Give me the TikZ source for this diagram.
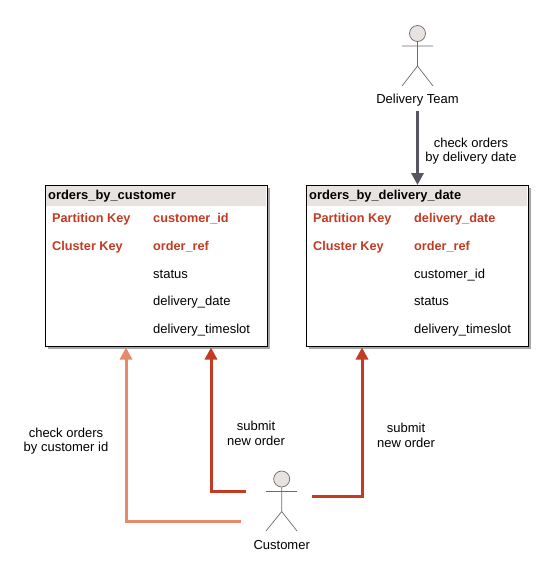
\documentclass[tikz,border=0pt]{standalone}
\usepackage{fontspec}
\setmainfont{Liberation Sans}
\usetikzlibrary{arrows.meta}
\definecolor{keyred}{HTML}{C23B22}
\definecolor{lightred}{HTML}{E58A6A}
\definecolor{headbg}{HTML}{E8E3E0}
\definecolor{slate}{HTML}{555564}
\definecolor{actorline}{HTML}{6E6A68}
\tikzset{
  txt/.style={font=\fontsize{13}{14.5}\selectfont,text=black,inner sep=0pt,align=center},
  cell/.style={font=\fontsize{13}{14}\selectfont,text=black,inner sep=0pt,anchor=base west},
  keycell/.style={cell,font=\fontsize{12.7}{14}\selectfont\bfseries,text=keyred},
  title/.style={cell,font=\fontsize{12.9}{14}\selectfont\bfseries},
  tablebox/.style={draw=black,line width=1pt,fill=white,minimum width=221.5pt,minimum height=161pt,inner sep=0pt,
    anchor=north west},
  shadowbox/.style={fill=black!35,minimum width=221.5pt,minimum height=161pt,inner sep=0pt,anchor=north west},
  conn/.style={line width=3pt,-{Triangle[length=12pt,width=12pt]}},
  stick/.style={draw=actorline,line width=0.7pt},
  head/.style={stick,circle,fill=headbg,minimum size=16pt,inner sep=0pt}
}
\begin{document}
\begin{tikzpicture}[x=1pt,y=-1pt]
\useasboundingbox (0,0) rectangle (558,582);
% tables
\node[shadowbox] at (48,188) {};
\node[shadowbox] at (309,188) {};
\node[tablebox] (t1) at (45,185) {};
\node[tablebox] (t2) at (306,185) {};
\fill[headbg] (45.5,185.5) rectangle (266,205.5);
\fill[headbg] (306.5,185.5) rectangle (527,205.5);
\node[tablebox,fill=none] at (45,185) {};
\node[tablebox,fill=none] at (306,185) {};
\node[title] (t1n) at (48,199) {orders\_by\_customer};
\node[keycell] (a1) at (52,222) {Partition Key};
\node[keycell] (a2) at (153,222) {customer\_id};
\node[keycell] (a3) at (52,250) {Cluster Key};
\node[keycell] (a4) at (153,250) {order\_ref};
\node[cell] (a5) at (153,278) {status};
\node[cell] (a6) at (153,305) {delivery\_date};
\node[cell] (a7) at (153,333) {delivery\_timeslot};
\node[title] (t2n) at (309,199) {orders\_by\_delivery\_date};
\node[keycell] (b1) at (313,222) {Partition Key};
\node[keycell] (b2) at (414,222) {delivery\_date};
\node[keycell] (b3) at (313,250) {Cluster Key};
\node[keycell] (b4) at (414,250) {order\_ref};
\node[cell] (b5) at (414,278) {customer\_id};
\node[cell] (b6) at (414,305) {status};
\node[cell] (b7) at (414,333) {delivery\_timeslot};
% delivery team actor
\node[head] (dh) at (417.5,33.5) {};
\draw[stick] (dh.south) -- (417.5,66) (402,46) -- (433,46) (402,86) -- (417.5,66) -- (433,86);
\node[txt] (dteam) at (417.5,100) {Delivery Team};
% customer actor
\node[head] (ch) at (281.7,479) {};
\draw[stick] (ch.south) -- (281.7,511.5) (266,491.5) -- (297,491.5) (266,531) -- (281.7,511.5) -- (297,531);
\node[txt] (cust) at (281.7,545) {Customer};
% free ends
\coordinate (c1) at (241,521);
\coordinate (c2) at (246,491.5);
\coordinate (c3) at (312,496);
\coordinate (dstart) at (417.5,111);
% connectors
\draw[conn,slate] (dstart) -- (417.5,185);
\draw[conn,lightred] (c1) -- (126,521) -- (126,347.5);
\draw[conn,keyred] (c2) -- (211,491.5) -- (211,347.5);
\draw[conn,keyred] (c3) -- (362,496) -- (362,347.5);
% labels
\node[txt] (l1) at (471,151) {check orders\\by delivery date};
\node[txt] (l2) at (66,441) {check orders\\by customer id};
\node[txt] (l3) at (256,433.5) {submit\\new order};
\node[txt] (l4) at (406,435.5) {submit\\new order};
\end{tikzpicture}
\end{document}
